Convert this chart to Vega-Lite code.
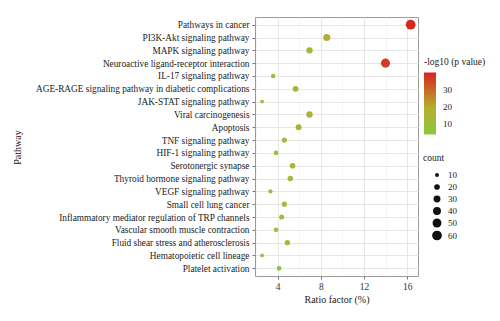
{
  "$schema": "https://vega.github.io/schema/vega-lite/v6.json",
  "width": 163,
  "height": 259,
  "autosize": "none",
  "padding": {"left": 255, "top": 17, "right": 82, "bottom": 45},
  "background": "white",
  "config": {
    "font": "Liberation Serif",
    "view": {"stroke": "#9a9a9a", "strokeWidth": 1}
  },
  "data": {
    "values": [
      {"pathway": "Pathways in cancer", "ratio": 16.32, "count": 60, "logp": 40},
      {"pathway": "PI3K-Akt signaling pathway", "ratio": 8.55, "count": 32, "logp": 20},
      {"pathway": "MAPK signaling pathway", "ratio": 6.95, "count": 26, "logp": 10},
      {"pathway": "Neuroactive ligand-receptor interaction", "ratio": 13.99, "count": 52, "logp": 37},
      {"pathway": "IL-17 signaling pathway", "ratio": 3.58, "count": 13, "logp": 7},
      {"pathway": "AGE-RAGE signaling pathway in diabetic complications", "ratio": 5.66, "count": 21, "logp": 17},
      {"pathway": "JAK-STAT signaling pathway", "ratio": 2.56, "count": 9, "logp": 5},
      {"pathway": "Viral carcinogenesis", "ratio": 6.95, "count": 26, "logp": 17},
      {"pathway": "Apoptosis", "ratio": 5.94, "count": 22, "logp": 16},
      {"pathway": "TNF signaling pathway", "ratio": 4.62, "count": 17, "logp": 9},
      {"pathway": "HIF-1 signaling pathway", "ratio": 3.85, "count": 14, "logp": 7},
      {"pathway": "Serotonergic synapse", "ratio": 5.38, "count": 20, "logp": 12},
      {"pathway": "Thyroid hormone signaling pathway", "ratio": 5.17, "count": 19, "logp": 11},
      {"pathway": "VEGF signaling pathway", "ratio": 3.33, "count": 12, "logp": 7},
      {"pathway": "Small cell lung cancer", "ratio": 4.62, "count": 17, "logp": 9},
      {"pathway": "Inflammatory mediator regulation of TRP channels", "ratio": 4.37, "count": 16, "logp": 8},
      {"pathway": "Vascular smooth muscle contraction", "ratio": 3.85, "count": 14, "logp": 7},
      {"pathway": "Fluid shear stress and atherosclerosis", "ratio": 4.9, "count": 18, "logp": 9},
      {"pathway": "Hematopoietic cell lineage", "ratio": 2.56, "count": 9, "logp": 4.5},
      {"pathway": "Platelet activation", "ratio": 4.13, "count": 15, "logp": 7}
    ]
  },
  "mark": {"type": "circle", "opacity": 1},
  "encoding": {
    "x": {
      "field": "ratio",
      "type": "quantitative",
      "scale": {"domain": [1.9, 17.0], "nice": false, "zero": false},
      "axis": {
        "title": "Ratio factor (%)",
        "titleFont": "Liberation Serif",
        "titleFontSize": 10,
        "titleFontWeight": "normal",
        "titleColor": "#222",
        "titlePadding": 4,
        "values": [2, 4, 6, 8, 10, 12, 14, 16],
        "labelExpr": "datum.value % 4 === 0 ? datum.label : ''",
        "labelFont": "Liberation Serif",
        "labelFontSize": 9.5,
        "labelColor": "#333",
        "labelPadding": 2,
        "domain": false,
        "tickSize": 3,
        "tickColor": {"condition": {"test": "datum.value % 4 === 0", "value": "#777"}, "value": "transparent"},
        "grid": true,
        "gridColor": {"condition": {"test": "datum.value % 4 === 0", "value": "#e6e6e6"}, "value": "#f0f0f0"},
        "gridWidth": {"condition": {"test": "datum.value % 4 === 0", "value": 1}, "value": 0.6}
      }
    },
    "y": {
      "field": "pathway",
      "type": "nominal",
      "sort": null,
      "scale": {"type": "point", "padding": 0.6},
      "axis": {
        "title": "Pathway",
        "titleFont": "Liberation Serif",
        "titleFontSize": 10,
        "titleFontWeight": "normal",
        "titleColor": "#222",
        "titleX": -233,
        "titleY": 130,
        "labelFont": "Liberation Serif",
        "labelFontSize": 9.3,
        "labelColor": "#222",
        "labelPadding": 3,
        "labelLimit": 400,
        "domain": false,
        "tickSize": 3,
        "tickColor": "#777",
        "grid": true,
        "gridColor": "#e6e6e6",
        "gridWidth": 1
      }
    },
    "color": {
      "field": "logp",
      "type": "quantitative",
      "scale": {"domain": [4, 20, 40.5], "range": ["#8dc63f", "#b5ae2e", "#d7261e"], "interpolate": "rgb"},
      "legend": {
        "title": "-log10 (p value)",
        "orient": "none",
        "legendX": 169,
        "legendY": 40,
        "direction": "vertical",
        "values": [10, 20, 30],
        "gradientLength": 62,
        "gradientThickness": 12,
        "gradientStrokeWidth": 0,
        "titleFont": "Liberation Serif",
        "titleFontSize": 9.5,
        "titleFontWeight": "normal",
        "titleColor": "#222",
        "titlePadding": 6,
        "labelFont": "Liberation Serif",
        "labelFontSize": 9,
        "labelColor": "#222",
        "labelOffset": 7,
        "padding": 0
      }
    },
    "size": {
      "field": "count",
      "type": "quantitative",
      "scale": {"domain": [9, 60], "range": [14, 95], "zero": false},
      "legend": {
        "title": "count",
        "orient": "none",
        "legendX": 168,
        "legendY": 136,
        "values": [10, 20, 30, 40, 50, 60],
        "symbolFillColor": "#111",
        "symbolStrokeWidth": 0,
        "symbolType": "circle",
        "symbolOffset": 9,
        "rowPadding": 2,
        "titleFont": "Liberation Serif",
        "titleFontSize": 9.5,
        "titleFontWeight": "normal",
        "titleColor": "#222",
        "titlePadding": 8,
        "labelFont": "Liberation Serif",
        "labelFontSize": 9,
        "labelColor": "#222",
        "labelOffset": 6,
        "padding": 0
      }
    }
  }
}
